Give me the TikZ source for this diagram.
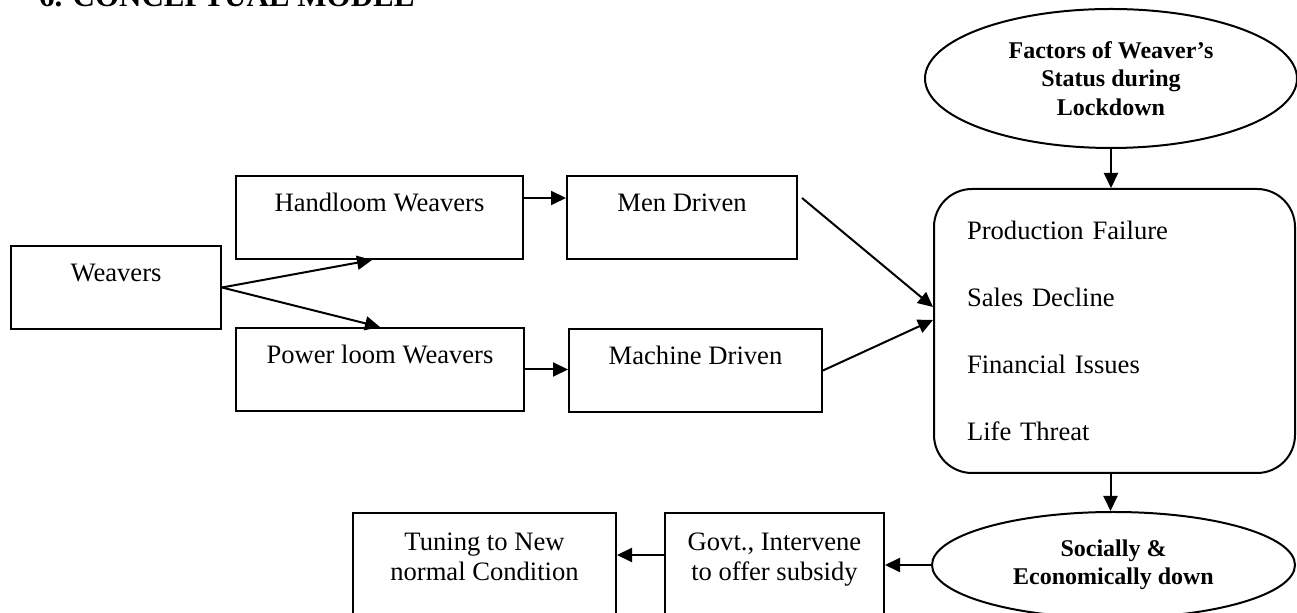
\documentclass[tikz,border=0pt]{standalone}
\usepackage{fontspec}
\setmainfont{Liberation Serif}
\usetikzlibrary{positioning}
\usetikzlibrary{arrows.meta}
\usetikzlibrary{shapes.geometric}

\begin{document}
\begin{tikzpicture}[x=0.5pt,y=-0.5pt,
		txtbox/.style={draw,line width=1pt,rectangle,minimum height=41.5pt,align=center,
			font=\fontsize{13.3}{15}\selectfont},
		oval/.style={draw,line width=1pt,ellipse,inner sep=0pt,align=center,
			font=\bfseries\fontsize{12}{14.25}\selectfont},
		arr/.style={line width=1pt,-{Triangle[length=7.5pt,width=7pt]}}]
		\useasboundingbox (0,0) rectangle (1297,613);
		\node[anchor=base west,font=\bfseries\fontsize{15.5}{18}\selectfont] (title) at (32,7) {6. CONCEPTUAL MODEL};
		% left part
		\node[txtbox,minimum width=105pt] (weavers) at (116,287.5) {Weavers\\\mbox{}};
		\node[txtbox,minimum width=143.5pt] (handloom) at (379.5,217.5) {Handloom Weavers\\\mbox{}};
		\node[txtbox,minimum width=144pt] (powerloom) at (380,369.5) {Power loom Weavers\\\mbox{}};
		\node[txtbox,minimum width=115pt] (men) at (682,217.5) {Men Driven\\\mbox{}};
		\node[txtbox,minimum width=126.5pt] (machine) at (695.5,370.5) {Machine Driven\\\mbox{}};
		% right part
		\node[oval,minimum width=186pt,minimum height=69.5pt] (factors) at (1111,78.5) {Factors of Weaver's\\Status during\\Lockdown};
		\node[draw,line width=1pt,rounded corners=19pt,minimum width=180.5pt,minimum height=142pt,
			inner xsep=16.5pt,text width=147.5pt,align=left,font=\fontsize{13.3}{33.5}\selectfont]
			(problems) at (1114.5,331) {Production Failure\\Sales Decline\\Financial Issues\\Life Threat};
		\node[oval,minimum width=181.5pt,minimum height=53pt] (socially) at (1113.5,565) {Socially \&\\Economically down};
		% bottom row
		\node[txtbox,minimum width=109.5pt,minimum height=59pt] (govt) at (774.5,572) {Govt., Intervene\\to offer subsidy\\\mbox{}};
		\node[txtbox,minimum width=131.5pt,minimum height=59pt] (tuning) at (484.5,572) {Tuning to New\\normal Condition\\\mbox{}};

		\coordinate (hl) at ([yshift=9.75pt]handloom.east);
		\coordinate (gv) at ([yshift=8.5pt]govt.west);
		\draw[arr] (weavers.east) -- ([xshift=-3.75pt]handloom.south);
		\draw[arr] (weavers.east) -- (powerloom.north);
		\draw[arr] (hl) -- (hl -| men.west);
		\draw[arr] (powerloom.east) -- (powerloom.east -| machine.west);
		\draw[arr] ([xshift=2pt,yshift=9.75pt]men.east) -- ([yshift=12pt]problems.west);
		\draw[arr] (machine.east) -- ([yshift=5.5pt]problems.west);
		\draw[arr] (factors.south) -- (factors.south |- problems.north);
		\draw[arr] ([xshift=-2pt]problems.south) -- ([xshift=-2pt]problems.south |- socially.north);
		\draw[arr] (socially.west) -- (socially.west -| govt.east);
		\draw[arr] (gv) -- (gv -| tuning.east);
\end{tikzpicture}
\end{document}
